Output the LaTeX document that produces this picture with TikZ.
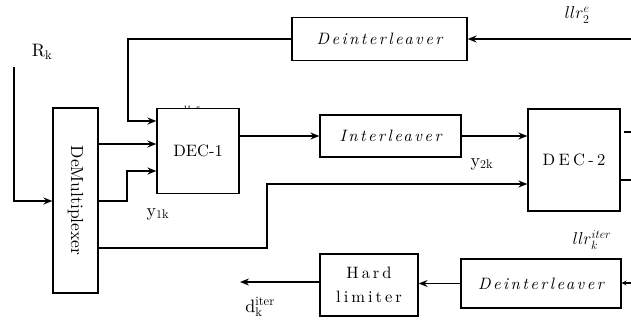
\documentclass[tikz,border=0pt]{standalone}
\usepackage{fontspec}
\setmainfont{lmroman10-regular.otf}[ItalicFont=lmroman10-italic.otf, BoldFont=lmroman10-bold.otf]
\usetikzlibrary{arrows.meta}
\tikzset{
  blk/.style={draw, line width=1.2pt, fill=white, inner sep=0pt, anchor=center},
  conn/.style={line width=1.5pt},
  arr/.style={conn, -{Stealth[length=9pt,width=7pt,inset=3pt]}},
  arrs/.style={conn, -{Stealth[length=5pt,width=5pt,inset=2pt]}},
  lbl/.style={inner sep=0pt, font=\fontsize{18}{20}\selectfont},
  spit/.style={font=\fontsize{16.5}{19}\selectfont\itshape\addfontfeature{LetterSpace=15}},
  spup/.style={font=\fontsize{16.5}{24}\selectfont\addfontfeature{LetterSpace=18}}
}
\begin{document}
\begin{tikzpicture}[x=1pt,y=-1pt]
\useasboundingbox (0,0) rectangle (631,324);
% hidden label behind DEC-1
\node[inner sep=0pt, font=\fontsize{13}{15}\selectfont] (llr1) at (192,112) {$llr_1^e$};
% blocks
\node[blk, minimum width=175pt, minimum height=43pt, spit] (deint1) at (379.5,39) {Deinterleaver};
\node[blk, minimum width=82pt, minimum height=85pt, font=\fontsize{16.5}{19}\selectfont] (dec1) at (198,151) {DEC-1};
\node[blk, minimum width=45pt, minimum height=185pt] (demux) at (75.5,200.5) {};
\node[rotate=-90, inner sep=0pt, font=\fontsize{17.5}{19}\selectfont] (demuxt) at (demux.center) {DeMultiplexer};
\node[blk, minimum width=141pt, minimum height=42pt, spit] (inter) at (390.5,136) {Interleaver};
\node[blk, minimum width=92pt, minimum height=102pt, font=\fontsize{16.5}{18}\selectfont\addfontfeature{LetterSpace=20}] (dec2) at (574,160) {DEC-2};
\node[blk, minimum width=160pt, minimum height=49pt, spit] (deint2) at (541,283.5) {Deinterleaver};
\node[blk, minimum width=98pt, minimum height=62pt, spup, align=center] (hard) at (369,285) {Hard\\limiter};
% free ends
\coordinate (e2in) at (631,39);
\coordinate (rk) at (14,67);
\coordinate (o1) at (631,132);
\coordinate (o2) at (631,180);
\coordinate (itin) at (631,283);
\coordinate (dout) at (240,282);
% labels
\node[lbl] (lrk) at (42,52) {$\mathrm{R}_\mathrm{k}$};
\node[lbl] (le2) at (577,15) {$llr_2^e$};
\node[lbl] (ly1) at (158,214) {$\mathrm{y}_{1\mathrm{k}}$};
\node[lbl] (ly2) at (482,164) {$\mathrm{y}_{2\mathrm{k}}$};
\node[lbl] (lit) at (592,240) {$llr_k^{iter}$};
\node[lbl] (ld) at (260,307) {$\mathrm{d}_\mathrm{k}^\mathrm{iter}$};
% connectors
\draw[arr] (e2in) -- (deint1.east |- e2in);
\draw[arr] (deint1.west) -- (128,39) |- ([yshift=30pt]dec1.west);
\draw[arr] (rk) |- (demux.west |- 0,201);
\draw[arr] (demux.east |- 0,144) -- (dec1.west |- 0,144);
\draw[arr] (demux.east |- 0,201) -- (127,201) |- (dec1.west |- 0,171);
\draw[arr] (demux.east |- 0,248) -- (267,248) |- (dec2.west |- 0,184);
\draw[arr] (dec1.east |- 0,136) -- (inter.west |- 0,136);
\draw[arr] (inter.east) -- (dec2.west |- inter.east);
\draw[conn] ([xshift=3pt]dec2.east |- o1) -- (o1);
\draw[conn] (dec2.east |- o2) -- (o2);
\draw[arrs] (itin) -- (deint2.east |- itin);
\draw[arr] (deint2.west) -- (hard.east |- deint2.west);
\draw[arr] (hard.west |- dout) -- (dout);
\end{tikzpicture}
\end{document}
